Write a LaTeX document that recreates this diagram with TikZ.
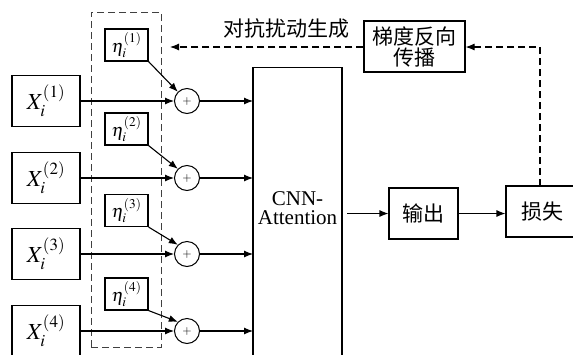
\documentclass[tikz,border=0pt]{standalone}
\usepackage{mathptmx}
\usepackage{fontspec}
\setmainfont{Liberation Serif}
\newfontfamily\cjk{Noto Sans CJK SC}
\usetikzlibrary{arrows.meta}
\tikzset{
  box/.style={draw, line width=1.1pt, inner sep=0pt, minimum width=#1},
  xbox/.style={box=68pt, minimum height=51pt},
  ebox/.style={box=43pt, minimum height=32pt},
  sumc/.style={draw, circle, line width=1pt, minimum size=25pt, inner sep=0pt},
  arr/.style={line width=1.1pt, -{Latex[length=9pt,width=7pt]}},
  darr/.style={line width=1.1pt, dash pattern=on 7pt off 4pt, -{Latex[length=9pt,width=7pt]}},
  txt/.style={font=\fontsize{23}{25}\selectfont},
  etxt/.style={font=\fontsize{18}{20}\selectfont},
  ctxt/.style={font=\cjk\fontsize{21}{23}\selectfont, align=center},
}
\begin{document}
\begin{tikzpicture}[x=1pt,y=-1pt]
\useasboundingbox (0,0) rectangle (573,354);
\clip (0,0) rectangle (573,354);
% dashed perturbation region
\node[draw=black!75, line width=1pt, dash pattern=on 7pt off 4pt, minimum width=70pt, minimum height=335pt, inner sep=0pt] (region) at (126,179.5) {};
% input boxes
\foreach \i/\y in {1/101,2/178,3/254,4/331}{
  \node[xbox, txt] (x\i) at (46,\y) {$X_i^{(\i)}$};
  \node[sumc] (s\i) at (187,\y) {\fontsize{12}{12}\selectfont$+$};
}
\foreach \i/\y in {1/45,2/129,3/210.5,4/294}{
  \node[ebox, etxt] (e\i) at (126.5,\y) {$\eta_i^{(\i)}$};
}
% CNN box
\node[draw, line width=1.1pt, minimum width=89pt, minimum height=340pt, inner sep=0pt, anchor=north] (cnn) at (297.5,67) {};
\node[align=center, font=\fontsize{21}{19}\selectfont] (cnnt) at (297.5,208) {CNN-\\Attention};
\foreach \i/\y in {1/101,2/178,3/254,4/331}{
  \coordinate (in\i) at (253,\y);
  \draw[arr] (x\i.east) -- (s\i.west);
  \draw[arr] (e\i.south east) -- (s\i.north west);
  \draw[arr] (s\i.east) -- (in\i);
}
\node[box=69pt, minimum height=51pt, ctxt] (out) at (423.5,213.5) {输出};
\node[box=72pt, minimum height=51pt, ctxt] (loss) at (542,211.5) {损失};
\node[box=101pt, minimum height=51pt, ctxt, font=\cjk\fontsize{21}{21}\selectfont] (grad) at (414.5,46.5) {梯度反向\\传播};
\coordinate (cnnout) at (347,213.5);
\draw[arr] (cnnout) -- (out.west);
\draw[arr] (out.east) -- (loss.west |- out.east);
\coordinate (turn) at (540,47);
\coordinate (lossTop) at (540,186);
\coordinate (pertEnd) at (170,47);
\draw[darr] (lossTop) -- (turn) -- (grad.east |- turn);
\draw[darr] (grad.west |- turn) -- (pertEnd);
\node[ctxt] (advtxt) at (286,28) {对抗扰动生成};
\end{tikzpicture}
\end{document}
